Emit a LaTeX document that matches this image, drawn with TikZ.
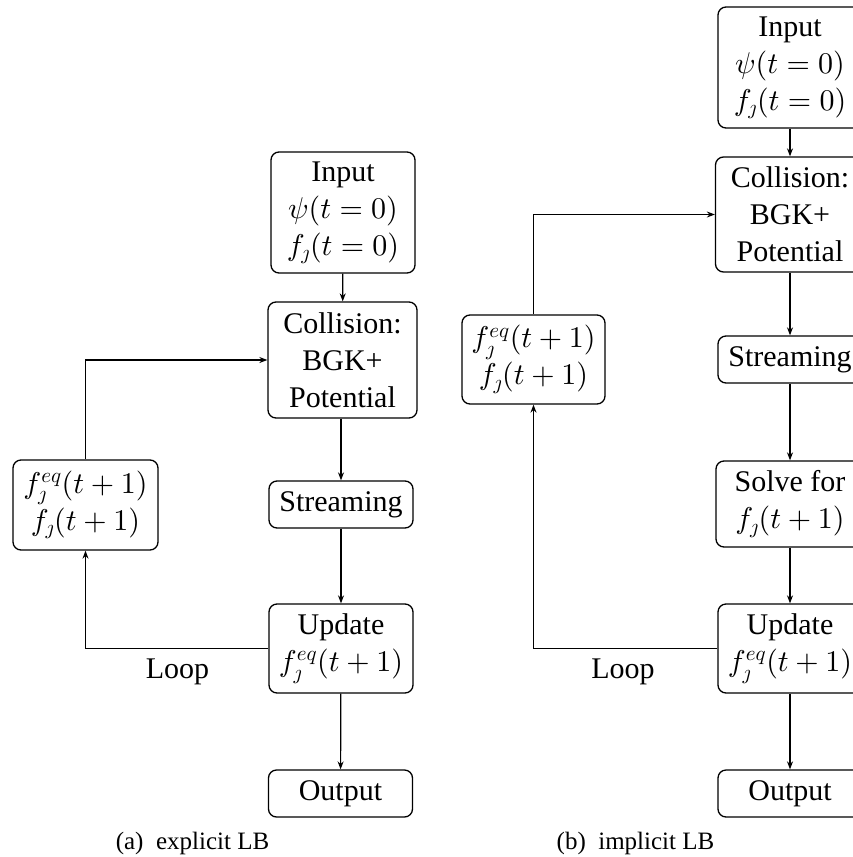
\RequirePackage{fix-cm}
\documentclass[tikz,border=0pt]{standalone}
\usepackage{fontspec}
\setmainfont{Liberation Serif}
\DeclareFontShape{OT1}{cmr}{m}{n}{<->cmr10}{}
\DeclareFontShape{OML}{cmm}{m}{it}{<->cmmi10}{}
\DeclareFontShape{OMS}{cmsy}{m}{n}{<->cmsy10}{}
\usetikzlibrary{arrows.meta}
\tikzset{
  box/.style={draw, line width=1.3pt, rounded corners=8pt, align=center,
    inner sep=2pt, font=\fontsize{30}{37}\selectfont, minimum width=144pt},
  conn/.style={line width=1.2pt, -{Stealth[length=8pt,width=6pt]}},
  lbl/.style={font=\fontsize{30}{37}\selectfont, inner sep=0pt},
  captext/.style={font=\fontsize{25}{30}\selectfont, inner sep=0pt}
}
\begin{document}
\begin{tikzpicture}[x=1pt,y=-1pt]
\useasboundingbox (0,0) rectangle (853,857);
\clip (0,0) rectangle (853,857);
% ---------- (a) explicit LB ----------
\node[box, minimum height=121pt] (in1) at (343,212.5) {Input\\ $\psi(t=0)$\\ $f_\jmath(t=0)$};
\node[box, minimum width=149pt, minimum height=116pt] (col1) at (342.5,360) {Collision:\\ BGK+\\ Potential};
\node[box, minimum height=47pt] (str1) at (341,504.5) {Streaming};
\node[box, minimum height=89pt] (upd1) at (341,648.5) {Update\\ $f^{eq}_\jmath(t+1)$};
\node[box, minimum height=47pt] (out1) at (340.5,793.5) {Output};
\node[box, minimum width=145pt, minimum height=90pt] (fb1) at (85.5,505) {$f^{eq}_\jmath(t+1)$\\ $f_\jmath(t+1)$};
\draw[conn] (in1) -- (col1);
\draw[conn] (col1.south -| str1) -- (str1);
\draw[conn] (str1) -- (upd1);
\draw[conn] (upd1) -- (out1);
\draw[conn] (upd1.west) -| (fb1.south);
\draw[conn] (fb1.north) |- (col1.west);
\node[lbl] (loop1) at (177.5,672) {Loop};
\node[captext] (capa) at (192.5,843) {(a)\enspace explicit LB};
% ---------- (b) implicit LB ----------
\node[box, minimum height=121pt] (in2) at (790,67.5) {Input\\ $\psi(t=0)$\\ $f_\jmath(t=0)$};
\node[box, minimum width=149pt, minimum height=115pt] (col2) at (790,214.5) {Collision:\\ BGK+\\ Potential};
\node[box, minimum height=47pt] (str2) at (790,359.5) {Streaming};
\node[box, minimum width=148pt, minimum height=86pt] (sol2) at (790,504) {Solve for\\ $f_\jmath(t+1)$};
\node[box, minimum height=89pt] (upd2) at (790,648.5) {Update\\ $f^{eq}_\jmath(t+1)$};
\node[box, minimum height=47pt] (out2) at (790,793.5) {Output};
\node[box, minimum width=143pt, minimum height=89pt] (fb2) at (533.5,359.5) {$f^{eq}_\jmath(t+1)$\\ $f_\jmath(t+1)$};
\draw[conn] (in2) -- (col2);
\draw[conn] (col2) -- (str2);
\draw[conn] (str2) -- (sol2);
\draw[conn] (sol2) -- (upd2);
\draw[conn] (upd2) -- (out2);
\draw[conn] (upd2.west) -| (fb2.south);
\draw[conn] (fb2.north) |- (col2.west);
\node[lbl] (loop2) at (623,672) {Loop};
\node[captext] (capb) at (635.5,843) {(b)\enspace implicit LB};
\end{tikzpicture}
\end{document}
